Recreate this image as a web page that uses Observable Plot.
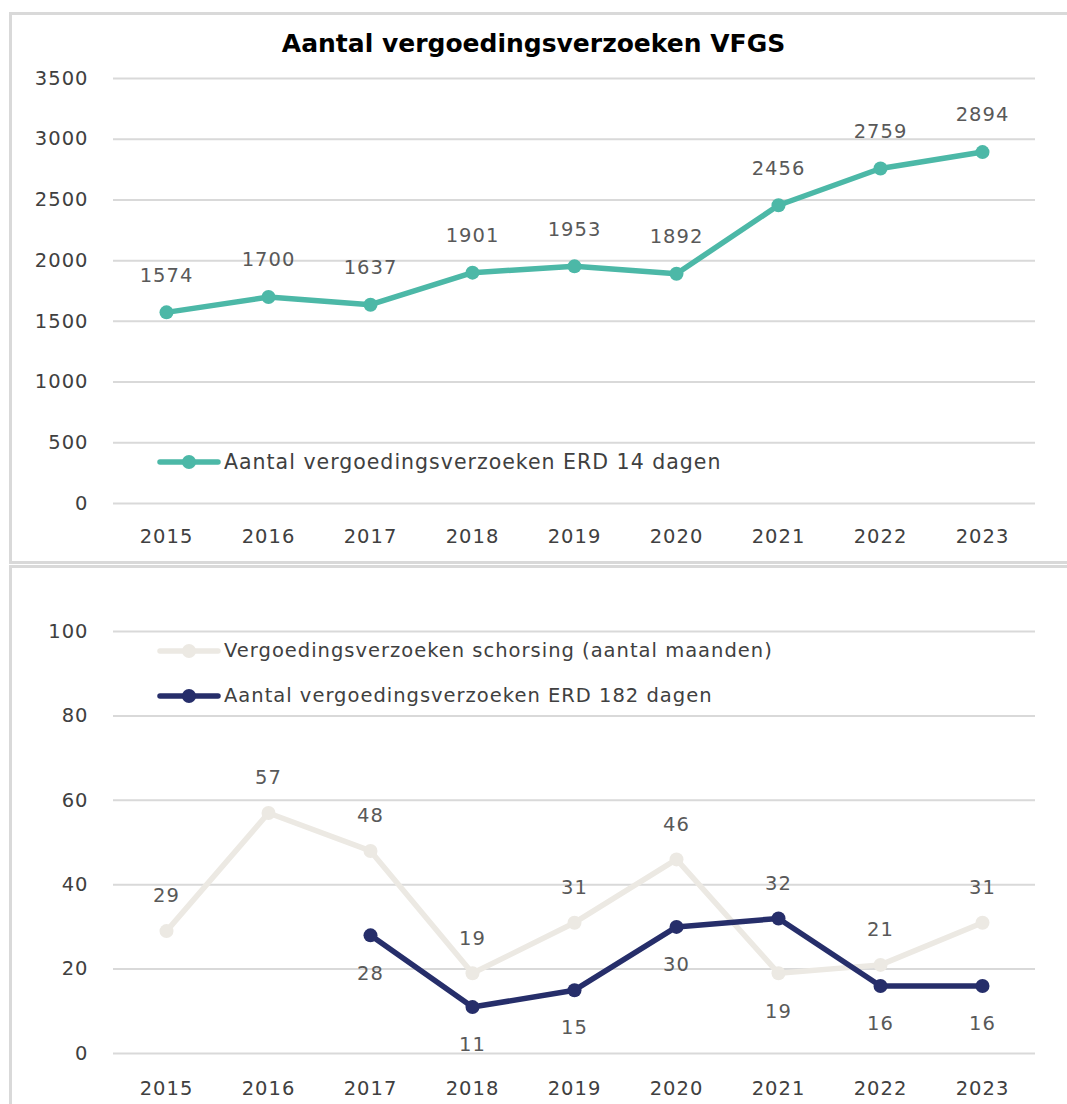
<!DOCTYPE html>
<html>
<head>
<meta charset="utf-8">
<script src="https://cdn.jsdelivr.net/npm/d3@7"></script>
<script src="https://cdn.jsdelivr.net/npm/@observablehq/plot@0.6"></script>
<style>
  html, body { margin: 0; padding: 0; background: #fff; }
  body { width: 1067px; height: 1104px; position: relative; overflow: hidden; font-family: "DejaVu Sans", sans-serif; }
  .panel { position: absolute; border: 3px solid #d9d9d9; box-sizing: border-box; background: #fff; }
  #p1 { left: 9px; top: 12px; width: 1080px; height: 552px; }
  #p2 { left: 9px; top: 565px; width: 1080px; height: 600px; }
  .chart { position: absolute; left: 0; }
  #c1 { top: 0; }
  #c2 { top: 563px; }
  .chart svg text { letter-spacing: 1px; }
  #title { position: absolute; left: 0; width: 1067px; top: 29px; text-align: center; font-weight: bold; font-size: 25px; color: #000; }
  .legend { position: absolute; display: flex; align-items: center; font-size: 19.5px; letter-spacing: 1px; color: #404040; white-space: nowrap; }
  .legend.big { font-size: 20.5px; }
  .legend svg { margin-right: 3px; }
</style>
</head>
<body>
<div class="panel" id="p1"></div>
<div class="panel" id="p2"></div>
<div id="title">Aantal vergoedingsverzoeken VFGS</div>
<div class="chart" id="c1"></div>
<div class="chart" id="c2"></div>
<div id="legends"></div>
<script>
const years = ["2015","2016","2017","2018","2019","2020","2021","2022","2023"];
const erd14 = [1574,1700,1637,1901,1953,1892,2456,2759,2894];
const schorsing = [29,57,48,19,31,46,19,21,31];
const erd182 = [null,null,28,11,15,30,32,16,16];
const topTicks = [0,500,1000,1500,2000,2500,3000,3500];
const bottomTicks = [0,20,40,60,80,100];

const seriesTop = [{name: "Aantal vergoedingsverzoeken ERD 14 dagen", color: "#4cb8a7", values: erd14}];
const seriesBottom = [
  {name: "Vergoedingsverzoeken schorsing (aantal maanden)", color: "#ece9e3", values: schorsing},
  {name: "Aantal vergoedingsverzoeken ERD 182 dagen", color: "#262e6a", values: erd182}
];

const labelColor = "#595959";
const axisColor = "#404040";
const gridColor = "#d9d9d9";
const fontStyle = {fontFamily: "'DejaVu Sans', sans-serif", fontSize: "19.5px", background: "transparent", overflow: "visible"};

const topData = years.map((y, i) => ({year: y, value: erd14[i]}));

const chart1 = Plot.plot({
  width: 1067, height: 560,
  marginLeft: 113, marginRight: 32, marginTop: 78, marginBottom: 57,
  style: fontStyle,
  x: {type: "point", domain: years, padding: 0.5},
  y: {domain: [0, 3500]},
  marks: [
    Plot.gridY(topTicks, {stroke: gridColor, strokeOpacity: 1, strokeWidth: 2}),
    Plot.axisY(topTicks, {tickSize: 0, tickPadding: 25, fill: axisColor, label: null, tickFormat: d => String(d)}),
    Plot.axisX({tickSize: 0, tickPadding: 26, fill: axisColor, label: null}),
    Plot.line(topData, {x: "year", y: "value", stroke: seriesTop[0].color, strokeWidth: 5.5}),
    Plot.dot(topData, {x: "year", y: "value", fill: seriesTop[0].color, r: 7}),
    Plot.text(topData, {x: "year", y: "value", text: d => String(d.value), dy: -37, fill: labelColor})
  ]
});
document.getElementById("c1").appendChild(chart1);

const bottomData = [];
seriesBottom.forEach((s, si) => {
  years.forEach((y, i) => {
    if (s.values[i] != null) {
      const other = seriesBottom[1 - si].values[i];
      const above = other == null || s.values[i] >= other;
      bottomData.push({series: s.name, color: s.color, year: y, value: s.values[i], above});
    }
  });
});

const chart2 = Plot.plot({
  width: 1067, height: 541,
  marginLeft: 113, marginRight: 32, marginTop: 68, marginBottom: 51,
  style: fontStyle,
  x: {type: "point", domain: years, padding: 0.5},
  y: {domain: [0, 100]},
  marks: [
    Plot.gridY(bottomTicks, {stroke: gridColor, strokeOpacity: 1, strokeWidth: 2}),
    Plot.axisY(bottomTicks, {tickSize: 0, tickPadding: 25, fill: axisColor, label: null, tickFormat: d => String(d)}),
    Plot.axisX({tickSize: 0, tickPadding: 28, fill: axisColor, label: null}),
    ...seriesBottom.map(s => Plot.line(bottomData.filter(d => d.series === s.name), {x: "year", y: "value", stroke: s.color, strokeWidth: 5.5})),
    ...seriesBottom.map(s => Plot.dot(bottomData.filter(d => d.series === s.name), {x: "year", y: "value", fill: s.color, r: 7})),
    Plot.text(bottomData.filter(d => d.above), {x: "year", y: "value", text: d => String(d.value), dy: -35, fill: labelColor}),
    Plot.text(bottomData.filter(d => !d.above), {x: "year", y: "value", text: d => String(d.value), dy: 38, fill: labelColor})
  ]
});
document.getElementById("c2").appendChild(chart2);

// Legends
function legendItem(s, left, top, cls) {
  const div = document.createElement("div");
  div.className = "legend" + (cls ? " " + cls : "");
  div.style.left = left + "px";
  div.style.top = top + "px";
  div.innerHTML = `<svg width="64" height="20"><line x1="3" y1="10" x2="61" y2="10" stroke="${s.color}" stroke-width="5.5" stroke-linecap="round"/><circle cx="32" cy="10" r="7" fill="${s.color}"/></svg><span>${s.name}</span>`;
  document.getElementById("legends").appendChild(div);
}
legendItem(seriesTop[0], 157, 450, "big");
legendItem(seriesBottom[0], 157, 639);
legendItem(seriesBottom[1], 157, 684);
</script>
</body>
</html>
